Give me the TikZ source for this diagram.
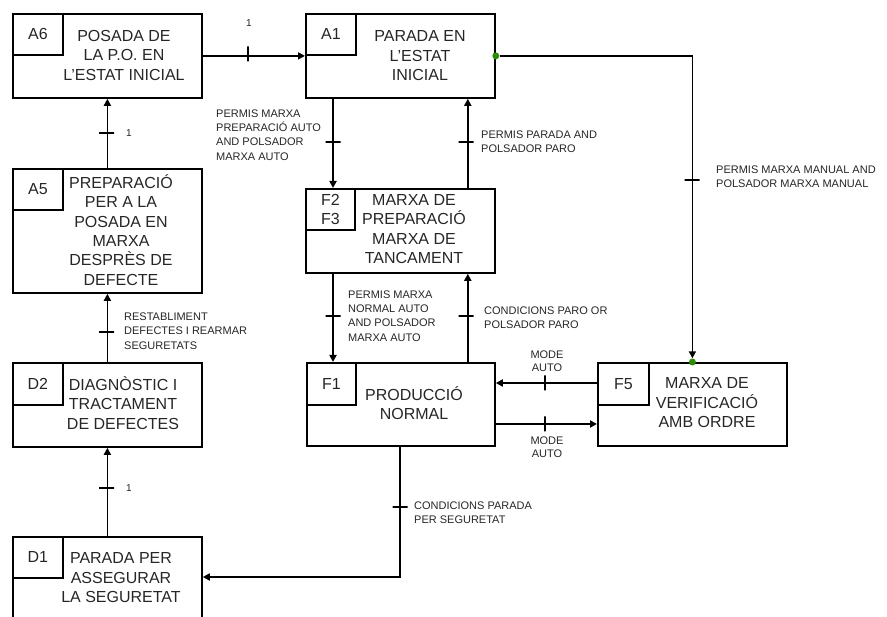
\documentclass[tikz,border=0pt]{standalone}
\usepackage{fontspec}
\setmainfont{Liberation Sans}
\usetikzlibrary{arrows.meta}
\definecolor{txt}{HTML}{262626}
\definecolor{dotgreen}{HTML}{2E8B0A}
\begin{document}
\begin{tikzpicture}[x=1pt,y=-1pt,
 box/.style={draw, line width=1.8pt, inner sep=0, anchor=north west, minimum width=189pt, minimum height=84pt},
 tag/.style={draw, line width=1.8pt, inner sep=0, anchor=north west, minimum width=50pt, minimum height=41pt, font=\fontsize{16}{19}\selectfont, text=txt, align=center},
 main/.style={font=\fontsize{16}{19.5}\selectfont, text=txt, align=center, inner sep=0},
 lbl/.style={font=\fontsize{11}{14.3}\selectfont, text=txt, align=left, anchor=west, inner sep=0},
 clbl/.style={font=\fontsize{11}{12.5}\selectfont, text=txt, align=center, inner sep=0},
 one/.style={font=\fontsize{10}{12}\selectfont, text=txt, inner sep=0},
 conn/.style={line width=1.8pt, -{Triangle[length=7pt,width=7pt]}},
 htick/.style={draw, line width=1.8pt, minimum width=15pt, minimum height=0pt, inner sep=0, shape=rectangle},
 vtick/.style={draw, line width=1.8pt, minimum width=0pt, minimum height=15pt, inner sep=0, shape=rectangle},
 gdot/.style={circle, fill=dotgreen, minimum size=7pt, inner sep=0}
]
\useasboundingbox (0,0) rectangle (887,617);

% boxes
\node[box] (A6) at (12,13) {};
\node[tag] (A6g) at (12,13) {A6};
\node[main] (A6t) at (124,55) {POSADA DE\\LA P.O. EN\\L’ESTAT INICIAL};

\node[box] (A1) at (305,13) {};
\node[tag] (A1g) at (305,13) {A1};
\node[main] (A1t) at (420,56) {PARADA EN\\L’ESTAT\\INICIAL};

\node[box] (F23) at (305,188) {};
\node[tag, minimum width=49pt] (F23g) at (305,188) {F2\\F3};
\node[main] (F23t) at (414,229) {MARXA DE\\PREPARACIÓ\\MARXA DE\\TANCAMENT};

\node[box, minimum width=188pt, minimum height=83pt] (F1) at (306,362) {};
\node[tag, minimum width=49pt, minimum height=42pt] (F1g) at (306,362) {F1};
\node[main] (F1t) at (414,403) {PRODUCCIÓ\\NORMAL};

\node[box, minimum height=83pt] (F5) at (597,362) {};
\node[tag, minimum width=51pt, minimum height=42pt] (F5g) at (597,362) {F5};
\node[main] (F5t) at (707,403) {MARXA DE\\VERIFICACIÓ\\AMB ORDRE};

\node[box, minimum height=124pt] (A5) at (12,168) {};
\node[tag] (A5g) at (12,168) {A5};
\node[main, font=\fontsize{16}{19.4}\selectfont] (A5t) at (121,230) {PREPARACIÓ\\PER A LA\\POSADA EN\\MARXA\\DESPRÈS DE\\DEFECTE};

\node[box] (D2) at (12,362) {};
\node[tag, minimum height=42pt] (D2g) at (12,362) {D2};
\node[main] (D2t) at (123,403) {DIAGNÒSTIC I\\TRACTAMENT\\DE DEFECTES};

\node[box, minimum height=90pt] (D1) at (12,536) {};
\node[tag] (D1g) at (12,536) {D1};
\node[main] (D1t) at (121,578) {PARADA PER\\ASSEGURAR\\LA SEGURETAT};

% green dots
\node[gdot] (dot1) at (A1.east) {};
\node[gdot] (dot2) at (F5.north) {};

% connectors
\draw[conn] (A6.east) -- (A1.west);
\draw[conn] ([xshift=28pt]A1.south west) -- ([xshift=28pt]F23.north west);
\draw[conn] ([xshift=-28pt]F23.north east) -- ([xshift=-28pt]A1.south east);
\draw[conn] ([xshift=28pt]F23.south west) -- ([xshift=27pt]F1.north west);
\draw[conn] ([xshift=-28pt]F1.north east) -- ([xshift=-28pt]F23.south east);
\draw[conn] (dot1) -| (dot2);
\draw[conn] ([yshift=-21pt]F5.north west) -- ([yshift=-21pt]F1.north east);
\draw[conn] ([yshift=-62pt]F1.north east) -- ([yshift=-62pt]F5.north west);
\draw[conn] ([xshift=94pt]F1.south west) |- ([yshift=-41pt]D1.north east);
\draw[conn] (D1.north) -- (D2.south);
\draw[conn] (D2.north) -- (A5.south);
\draw[conn] (A5.north) -- (A6.south);

% ticks
\node[vtick] (t1) at (248,54) {};
\node[htick] (t2) at (333,142) {};
\node[htick] (t3) at (466,142) {};
\node[htick] (t4) at (692,180) {};
\node[htick] (t5) at (333,316) {};
\node[htick] (t6) at (466,316) {};
\node[vtick] (t7) at (545,383) {};
\node[vtick] (t8) at (545,424) {};
\node[htick] (t9) at (400,507) {};
\node[htick] (t10) at (106.5,133) {};
\node[htick] (t11) at (106.5,332) {};
\node[htick] (t12) at (106.5,488) {};

% labels
\node[one] (l1) at (249,23) {1};
\node[lbl] (l2) at (216,135) {PERMIS MARXA\\PREPARACIÓ AUTO\\AND POLSADOR\\MARXA AUTO};
\node[lbl] (l3) at (481,142) {PERMIS PARADA AND\\POLSADOR PARO};
\node[lbl] (l4) at (716,177) {PERMIS MARXA MANUAL AND\\POLSADOR MARXA MANUAL};
\node[lbl] (l5) at (348,316) {PERMIS MARXA\\NORMAL AUTO\\AND POLSADOR\\MARXA AUTO};
\node[lbl] (l6) at (484,318) {CONDICIONS PARO OR\\POLSADOR PARO};
\node[clbl] (l7) at (547,361) {MODE\\AUTO};
\node[clbl] (l8) at (547,447) {MODE\\AUTO};
\node[lbl] (l9) at (414,513) {CONDICIONS PARADA\\PER SEGURETAT};
\node[lbl] (l10) at (124,331) {RESTABLIMENT\\DEFECTES I REARMAR\\SEGURETATS};
\node[one] (l11) at (129,133) {1};
\node[one] (l12) at (129,488) {1};
\end{tikzpicture}
\end{document}
